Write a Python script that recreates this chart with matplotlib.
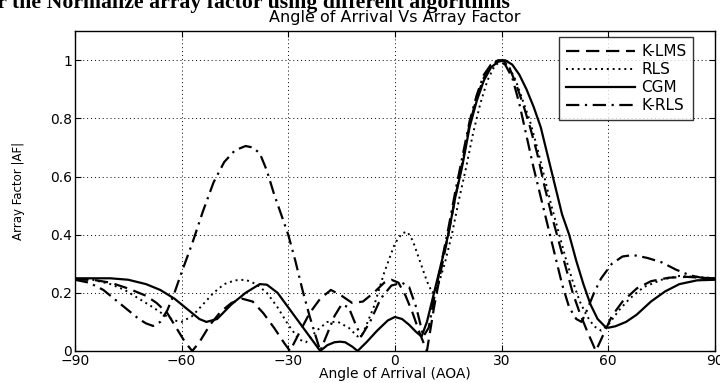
import matplotlib.pyplot as plt

plt.rcParams['font.family'] = 'DejaVu Sans'

# K-LMS (dashed)
ang_klms = [-90, -85, -80, -75, -70, -67, -64, -61, -59, -57, -55, -52, -49, -46, -43, -40,
            -37, -34, -31, -29.5, -27, -24, -21, -18, -15, -12, -9, -6, -3, -1, 1, 3, 5, 7, 9,
            11, 13, 15, 17, 19, 21, 23, 25, 27, 29, 30.5, 32, 34, 36, 38, 40, 42, 44, 46, 48,
            50, 52, 54, 56.5, 58, 61, 64, 68, 72, 77, 82, 86, 90]
af_klms = [0.245, 0.245, 0.235, 0.215, 0.19, 0.165, 0.13, 0.07, 0.03, 0.0, 0.03, 0.09, 0.135,
           0.165, 0.18, 0.17, 0.13, 0.08, 0.025, 0.0, 0.06, 0.13, 0.18, 0.21, 0.19, 0.165, 0.17,
           0.2, 0.235, 0.245, 0.235, 0.19, 0.13, 0.06, 0.0, 0.15, 0.28, 0.4, 0.53, 0.65, 0.78,
           0.87, 0.94, 0.98, 1.0, 1.0, 0.98, 0.92, 0.85, 0.77, 0.68, 0.57, 0.47, 0.38, 0.29,
           0.2, 0.13, 0.07, 0.0, 0.04, 0.12, 0.17, 0.215, 0.24, 0.252, 0.255, 0.252, 0.25]

# RLS (dotted)
ang_rls = [-90, -85, -80, -76, -72, -68, -65, -62, -60, -57, -54, -51, -48, -45, -42, -39, -36,
           -33, -30, -27, -25, -22, -19, -16, -13, -10.5, -9, -6, -3, 0, 2, 3.5, 5, 7, 9, 10.5,
           12, 14, 16, 18, 20, 22, 24, 26, 28, 30, 32, 34, 36, 38, 40, 42, 44, 46, 48, 50, 52,
           54, 56, 58, 60, 63, 66, 70, 75, 80, 85, 90]
af_rls = [0.25, 0.245, 0.23, 0.21, 0.18, 0.15, 0.125, 0.105, 0.1, 0.12, 0.16, 0.2, 0.23, 0.243,
          0.245, 0.23, 0.2, 0.15, 0.09, 0.04, 0.03, 0.07, 0.1, 0.1, 0.08, 0.05, 0.06, 0.15, 0.27,
          0.37, 0.405, 0.41, 0.38, 0.31, 0.24, 0.2, 0.22, 0.3, 0.4, 0.52, 0.63, 0.75, 0.85, 0.93,
          0.98, 1.0, 0.98, 0.93, 0.86, 0.79, 0.7, 0.6, 0.5, 0.41, 0.32, 0.24, 0.17, 0.12, 0.085,
          0.07, 0.09, 0.14, 0.18, 0.22, 0.245, 0.258, 0.255, 0.25]

# CGM (solid)
ang_cgm = [-90, -85, -80, -75, -70, -66, -62, -58, -55, -53, -50, -46, -42, -38, -36, -33, -30,
           -27, -24, -21, -19, -17, -15.5, -14, -12, -10.5, -8, -5, -2, 0, 2, 4, 6, 7.5, 9, 11,
           13, 15, 17, 19, 21, 23, 25, 27, 29, 31, 33, 35, 37, 39, 41, 43, 45, 47, 49, 51, 53,
           55, 57, 59, 60, 62, 65, 68, 72, 76, 80, 85, 90]
af_cgm = [0.25, 0.25, 0.25, 0.245, 0.23, 0.21, 0.18, 0.14, 0.11, 0.1, 0.11, 0.16, 0.2, 0.23,
          0.228, 0.2, 0.15, 0.1, 0.05, 0.0, 0.02, 0.03, 0.032, 0.03, 0.015, 0.0, 0.03, 0.07,
          0.105, 0.117, 0.11, 0.09, 0.065, 0.05, 0.1, 0.2, 0.3, 0.4, 0.53, 0.64, 0.77, 0.86,
          0.93, 0.975, 0.995, 1.0, 0.985, 0.95, 0.9, 0.84, 0.77, 0.67, 0.57, 0.47, 0.4, 0.31,
          0.23, 0.16, 0.11, 0.085, 0.08, 0.085, 0.1, 0.125, 0.17, 0.205, 0.23, 0.243, 0.245]

# K-RLS (dash-dot)
ang_krls = [-90, -86, -82, -78, -75, -72, -70, -68, -66, -64, -62, -60, -57, -54, -51, -48, -45,
            -42, -40, -38, -36, -34, -32, -30, -28, -26, -24, -22, -21, -19, -17, -15, -13, -11,
            -9.5, -7, -4, -1, 2, 4, 6, 8, 9.5, 11, 13, 15, 17, 19, 21, 23, 25, 27, 29, 31, 33, 35,
            37, 39, 41, 43, 45, 47, 49, 51, 52.5, 54, 56, 58, 61, 64, 67, 71, 75, 79, 83, 87, 90]
af_krls = [0.245, 0.235, 0.21, 0.17, 0.14, 0.11, 0.095, 0.086, 0.1, 0.14, 0.2, 0.27, 0.37, 0.48,
           0.58, 0.65, 0.69, 0.705, 0.7, 0.68, 0.62, 0.54, 0.47, 0.4, 0.31, 0.21, 0.12, 0.04, 0.0,
           0.06, 0.12, 0.16, 0.15, 0.09, 0.05, 0.1, 0.18, 0.225, 0.235, 0.22, 0.15, 0.05, 0.08,
           0.18, 0.3, 0.42, 0.55, 0.67, 0.79, 0.88, 0.95, 0.985, 1.0, 0.985, 0.94, 0.85, 0.74,
           0.63, 0.53, 0.43, 0.33, 0.23, 0.15, 0.11, 0.1, 0.14, 0.2, 0.25, 0.3, 0.325, 0.33, 0.32,
           0.305, 0.28, 0.26, 0.25, 0.245]

xticks = [-90, -60, -30, 0, 30, 60, 90]
yticks = [0, 0.2, 0.4, 0.6, 0.8, 1]
ytick_labels = ['0', '0.2', '0.4', '0.6', '0.8', '1']

fig = plt.figure(figsize=(7.2, 3.83), dpi=100)
ax = fig.add_axes([0.104, 0.0836, 0.889, 0.835])

ax.plot(ang_klms, af_klms, color='k', lw=1.6, linestyle=(0, (6, 3)), label='K-LMS')
ax.plot(ang_rls, af_rls, color='k', lw=1.4, linestyle=(0, (1, 2)), label='RLS')
ax.plot(ang_cgm, af_cgm, color='k', lw=1.6, linestyle='-', label='CGM')
ax.plot(ang_krls, af_krls, color='k', lw=1.6, linestyle=(0, (6, 2.5, 1, 2.5)), label='K-RLS')

ax.set_xlim(-90, 90)
ax.set_ylim(0, 1.1)
ax.set_xticks(xticks)
ax.set_yticks(yticks)
ax.set_yticklabels(ytick_labels)
ax.tick_params(direction='in', length=4, top=True, right=True, labelsize=10, pad=2)
ax.grid(True, color='k', linestyle=(0, (1, 3)), linewidth=0.7)
for s in ax.spines.values():
    s.set_linewidth(1.0)

ax.set_title('Angle of Arrival Vs Array Factor', fontsize=11.5, pad=6.5)
ax.set_xlabel('Angle of Arrival (AOA)', fontsize=10)
ax.xaxis.set_label_coords(0.5, -0.05)
ax.set_ylabel('Array Factor |AF|', fontsize=8.5)
ax.yaxis.set_label_coords(-0.078, 0.5)

leg = ax.legend(loc='upper right', bbox_to_anchor=(0.966, 0.981), borderaxespad=0,
                fontsize=11, handlelength=4.5, frameon=True, fancybox=False,
                labelspacing=0.2, handletextpad=0.4, borderpad=0.45)
leg.get_frame().set_edgecolor('k')
leg.get_frame().set_linewidth(1.0)

# page caption above the figure, partly cut off at the top edge
fig.text(-0.029, 0.978, 'for the Normalize array factor using different algorithms',
         fontsize=15.7, fontweight='bold', family='Liberation Serif', va='baseline', ha='left')

fig.savefig('out.png', dpi=100)
